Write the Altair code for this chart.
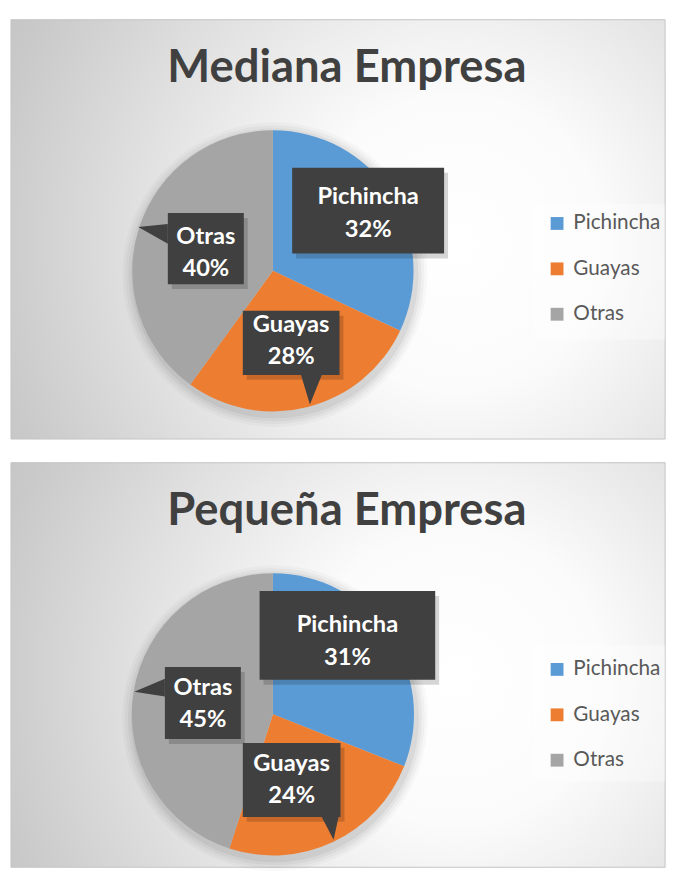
import altair as alt
import pandas as pd

# ---- data ----
categories = ["Pichincha", "Guayas", "Otras"]
mediana_values = [32, 28, 40]
pequena_values = [31, 24, 45]
titles = ["Mediana Empresa", "Pequeña Empresa"]
colors = ["#5b9bd5", "#ed7d31", "#a5a5a5"]

# ---- layout (pixels, relative to each panel) ----
W = 663
HEIGHTS = [425, 410]
pie_center = [(265.5, 254.5), (265.5, 255)]
pie_radius = [142.5, 143]
# label boxes: x, x2, y, y2 per category
boxes = [
    {"Pichincha": (285, 439, 150, 237), "Guayas": (235, 333, 295, 360), "Otras": (159, 236, 196, 268)},
    {"Pichincha": (252, 430, 130, 220), "Guayas": (235, 334, 284, 359), "Otras": (156, 233, 207, 280)},
]
# position of the first text line (x centre, y centre)
text_pos = [
    {"Pichincha": (362, 180), "Guayas": (284, 309), "Otras": (197.5, 220)},
    {"Pichincha": (341, 165), "Guayas": (284.5, 305), "Otras": (194.5, 228)},
]
# pointers: list of (x, y, y2)
pointers = [
    {"Otras": [(129, 210, 210), (159, 207, 227)],
     "Guayas": [(294, 360, 360), (303, 360, 390), (315, 360, 360)]},
    {"Otras": [(125, 232, 232), (156, 219, 237)],
     "Guayas": [(315, 359, 359), (327, 359, 382), (332, 359, 359)]},
]
legend_pos = [(531, 184), (531, 187)]
legend_box = [(530, 663, 187, 324), (530, 663, 185, 323)]

FONT = "Lato"
gradient = {
    "gradient": "radial",
    "x1": 0.68, "y1": 0.52, "r1": 0,
    "x2": 0.68, "y2": 0.52, "r2": 0.9,
    "stops": [
        {"offset": 0.0, "color": "#ffffff"},
        {"offset": 0.25, "color": "#fbfbfb"},
        {"offset": 0.55, "color": "#e0e0e0"},
        {"offset": 0.8, "color": "#c9c9c9"},
        {"offset": 1.0, "color": "#bdbdbd"},
    ],
}


def panel(i, values):
    H = HEIGHTS[i]
    cx, cy = pie_center[i]
    r = pie_radius[i]
    df = pd.DataFrame({"cat": categories, "val": values, "ord": [0, 1, 2]})
    one = pd.DataFrame({"a": [0]})

    bg = alt.Chart(one).mark_rect(fill=gradient, stroke="#c4c4c4", strokeWidth=1).encode(
        x=alt.value(0), x2=alt.value(W), y=alt.value(0), y2=alt.value(H)
    )

    lb = legend_box[i]
    legend_bg = alt.Chart(one).mark_rect(fill="#ffffff", opacity=0.35).encode(
        x=alt.value(lb[0]), x2=alt.value(lb[1]), y=alt.value(lb[2]), y2=alt.value(lb[3])
    )

    title = alt.Chart(one).mark_text(
        text=titles[i], font=FONT, fontSize=46, fontWeight="bold", color="#404040",
        align="center", baseline="alphabetic"
    ).encode(x=alt.value(340.5), y=alt.value(63))

    shadows = []
    for dr, op in [(12, 0.025), (9, 0.03), (6, 0.04), (3, 0.05)]:
        shadows.append(
            alt.Chart(one).mark_point(shape="circle", filled=True, color="#000000",
                                      opacity=op, size=(2 * (r + dr)) ** 2, strokeWidth=0)
            .encode(x=alt.value(cx + 2), y=alt.value(cy + 4))
        )

    pie = alt.Chart(df).mark_arc(radius=r).encode(
        theta=alt.Theta("val:Q", stack=True),
        order=alt.Order("ord:Q"),
        color=alt.Color(
            "cat:N",
            scale=alt.Scale(domain=categories, range=colors),
            legend=alt.Legend(
                title=None, orient="none", legendX=legend_pos[i][0], legendY=legend_pos[i][1],
                symbolType="square", symbolSize=169, symbolStrokeWidth=0,
                labelFont=FONT, labelFontSize=21, labelColor="#595959", labelOffset=6,
                rowPadding=24, padding=12, labelLimit=200,
            ),
        ),
        x=alt.value(cx), y=alt.value(cy),
    )

    brows = []
    for ci, c in enumerate(categories):
        x, x2, y, y2 = boxes[i][c]
        tx, ty = text_pos[i][c]
        brows.append({"cat": c, "x": x, "x2": x2, "y": y, "y2": y2,
                      "tx": tx, "ty": ty,
                      "label": f"{c}\n{values[ci]}%"})
    bdf = pd.DataFrame(brows)

    prow = []
    for c, pts in pointers[i].items():
        for (px, py, py2) in pts:
            prow.append({"cat": c, "px": px, "py": py, "py2": py2})
    pdf = pd.DataFrame(prow)

    X = lambda f: alt.X(f, type="quantitative", scale=None, axis=None)
    Y = lambda f: alt.Y(f, type="quantitative", scale=None, axis=None)

    box_shadow = alt.Chart(bdf).mark_rect(color="#000000", opacity=0.16).transform_calculate(
        sx="datum.x + 4", sx2="datum.x2 + 4", sy="datum.y + 5", sy2="datum.y2 + 5"
    ).encode(x=X("sx"), x2=alt.X2("sx2"), y=Y("sy"), y2=alt.Y2("sy2"))

    box = alt.Chart(bdf).mark_rect(color="#404040").encode(
        x=X("x"), x2=alt.X2("x2"), y=Y("y"), y2=alt.Y2("y2")
    )

    ptr = alt.Chart(pdf).mark_area(color="#404040", interpolate="linear").encode(
        x=X("px"), y=Y("py"), y2=alt.Y2("py2"), detail="cat:N"
    )

    txt = alt.Chart(bdf).mark_text(
        font=FONT, fontSize=24, fontWeight="bold", color="#ffffff",
        align="center", baseline="middle", lineBreak="\n", lineHeight=33
    ).encode(x=X("tx"), y=Y("ty"), text="label:N")

    return alt.layer(bg, legend_bg, title, *shadows, pie, box_shadow, ptr, box, txt).properties(
        width=W, height=H
    )


chart = alt.vconcat(
    panel(0, mediana_values), panel(1, pequena_values), spacing=22
).resolve_scale(color="independent").properties(
    padding={"left": 2, "top": 5, "right": 0, "bottom": 0}
).configure_view(stroke=None)

chart.save("out.html", embed_options={"renderer": "svg", "actions": False})
